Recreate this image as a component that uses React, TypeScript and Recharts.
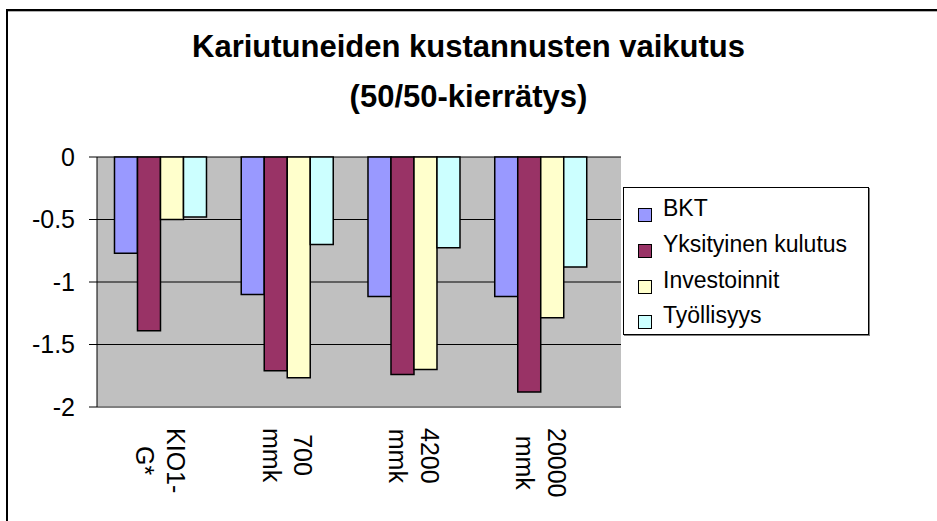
import { BarChart, Bar, XAxis, YAxis, CartesianGrid, Legend } from 'recharts';

const FONT = '"Liberation Sans", Arial, sans-serif';

// categories (line break = where the label wraps)
const categories = ['KIO1-\nG*', '700\nmmk', '4200\nmmk', '20000\nmmk'];
const bkt = [-0.77, -1.1, -1.115, -1.115];
const yksityinenKulutus = [-1.39, -1.71, -1.74, -1.88];
const investoinnit = [-0.5, -1.765, -1.7, -1.285];
const tyollisyys = [-0.48, -0.7, -0.725, -0.88];
const yTicks = [0, -0.5, -1, -1.5, -2];
const boundaryTicks = [1, 2, 3];

const series = [
  { key: 'BKT', values: bkt, color: '#9999FF' },
  { key: 'Yksityinen kulutus', values: yksityinenKulutus, color: '#993366' },
  { key: 'Investoinnit', values: investoinnit, color: '#FFFFCC' },
  { key: 'Työllisyys', values: tyollisyys, color: '#CCFFFF' },
];

const data = categories.map((name, i) => {
  const row: Record<string, string | number> = { name };
  series.forEach((s) => (row[s.key] = s.values[i]));
  return row;
});

const ctx = document.createElement('canvas').getContext('2d');
const textWidth = (t: string, size: number) => {
  if (!ctx) return t.length * size * 0.55;
  ctx.font = `${size}px ${FONT}`;
  return ctx.measureText(t).width;
};

// rotated, two-line category labels, top aligned under the plot
const CategoryTick = ({ x, y, payload }: any) => {
  const lines = String(payload.value).split('\n');
  const len = Math.max(...lines.map((l) => textWidth(l, 25)));
  return (
    <g transform={`translate(${x},${y + 21 + len / 2}) rotate(90)`}>
      {lines.map((l, i) => (
        <text key={i} x={0} y={-7 + i * 31.5} textAnchor="middle" fontSize={25} fontFamily={FONT} fill="#000">
          {l}
        </text>
      ))}
    </g>
  );
};

const LegendBox = () => (
  <div
    style={{
      width: 246,
      height: 148,
      boxSizing: 'border-box',
      border: '1px solid #000',
      boxShadow: '1px 1px 0 #808080',
      background: '#fff',
      position: 'relative',
      fontFamily: FONT,
      fontSize: 23,
      lineHeight: '23px',
      color: '#000',
    }}
  >
    {series.map((s, i) => (
      <div key={s.key} style={{ position: 'absolute', left: 0, top: 9 + i * 35.8, height: 23, whiteSpace: 'nowrap' }}>
        <span
          style={{
            position: 'absolute',
            left: 14,
            top: 11,
            width: 14,
            height: 14,
            boxSizing: 'border-box',
            border: '1px solid #000',
            background: s.color,
          }}
        />
        <span style={{ position: 'absolute', left: 39 }}>{s.key}</span>
      </div>
    ))}
  </div>
);

export default function App() {
  return (
    <div style={{ position: 'absolute', left: 0, top: 0, width: 937, height: 521, overflow: 'hidden', background: '#fff' }}>
      <div style={{ position: 'absolute', left: 6, top: 9, width: 931, height: 512, borderTop: '2px solid #000', borderLeft: '2px solid #000' }} />
      <div style={{ position: 'absolute', left: 8, top: 11, width: 929, height: 1, background: '#b0b0b0' }} />
      <div
        style={{
          position: 'absolute',
          left: 0,
          top: 22,
          width: 937,
          textAlign: 'center',
          fontFamily: FONT,
          fontWeight: 'bold',
          fontSize: 31,
          lineHeight: '50px',
          color: '#000',
        }}
      >
        Kariutuneiden kustannusten vaikutus
        <br />
        (50/50-kierrätys)
      </div>
      <div style={{ position: 'absolute', left: 0, top: 0 }}>
        <BarChart
          width={937}
          height={521}
          data={data}
          margin={{ top: 157, right: 316, bottom: 4, left: 7 }}
          barCategoryGap="13.8%"
          barGap={0}
        >
          <CartesianGrid horizontal vertical={false} fill="#C0C0C0" fillOpacity={1} stroke="#000" />
          <XAxis
            dataKey="name"
            interval={0}
            height={110}
            axisLine={{ stroke: '#808080', strokeWidth: 2 }}
            tickLine={false}
            tickSize={0}
            tickMargin={0}
            padding={{ left: 0, right: 17 }}
            tick={<CategoryTick />}
          />
          <XAxis
            xAxisId="top"
            orientation="top"
            type="number"
            domain={[0, 4]}
            allowDataOverflow
            ticks={boundaryTicks}
            height={0}
            mirror
            tickSize={8}
            tickFormatter={() => ''}
            padding={{ left: 0, right: 17 }}
            axisLine={{ stroke: '#404040' }}
            tickLine={{ stroke: '#404040' }}
          />
          <YAxis
            domain={[-2, 0]}
            ticks={yTicks}
            width={90}
            tickSize={8}
            tickMargin={14}
            axisLine={{ stroke: '#000' }}
            tickLine={{ stroke: '#000' }}
            tick={{ fontSize: 25, fontFamily: FONT, fill: '#000' }}
            tickFormatter={(v) => String(v)}
          />
          <YAxis
            yAxisId="right"
            orientation="right"
            domain={[-2, 0]}
            width={0}
            tick={false}
            tickLine={false}
            axisLine={{ stroke: '#808080', strokeWidth: 2 }}
          />
          {series.map((s) => (
            <Bar
              key={s.key}
              dataKey={s.key}
              fill={s.color}
              stroke="#000"
              strokeWidth={1.5}
              isAnimationActive={false}
            />
          ))}
          <Legend
            layout="vertical"
            align="center"
            verticalAlign="middle"
            wrapperStyle={{ left: 623, top: 187, width: 246, height: 148 }}
            content={<LegendBox />}
          />
        </BarChart>
      </div>
    </div>
  );
}
